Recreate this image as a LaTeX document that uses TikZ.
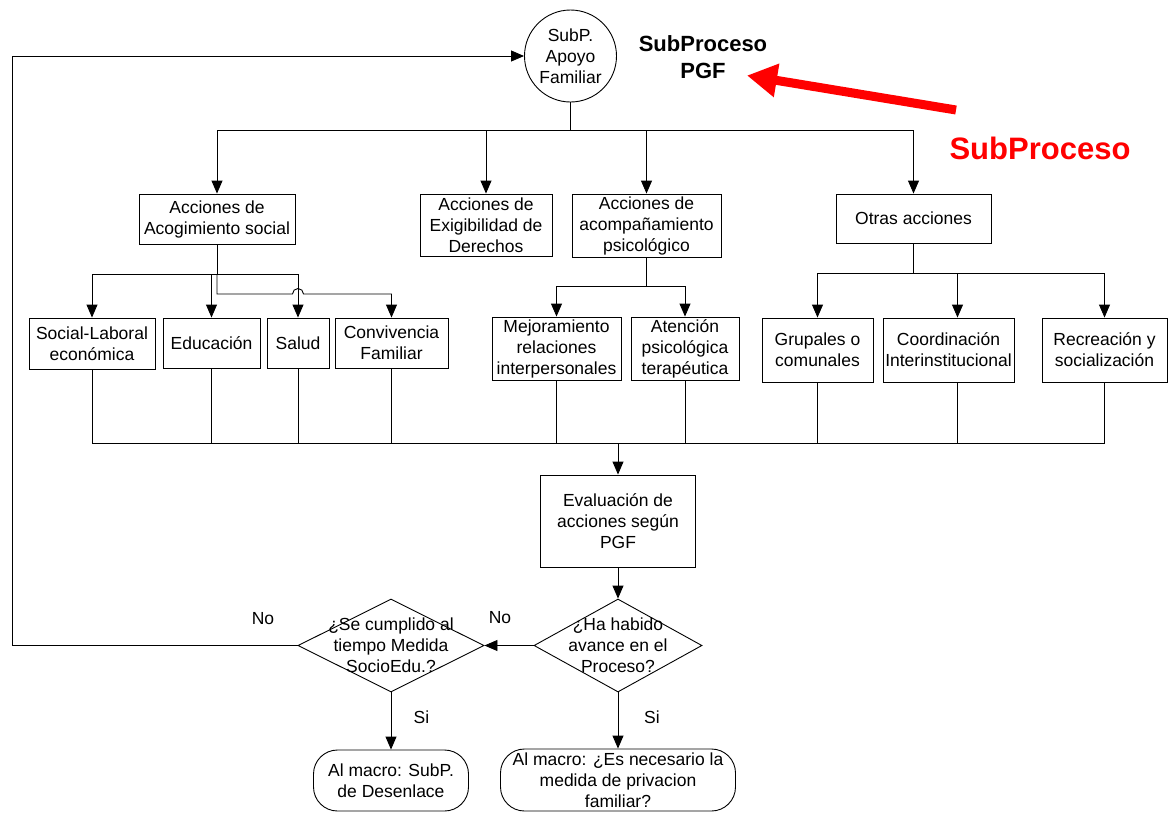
\documentclass[tikz,border=0pt]{standalone}
\usepackage{fontspec}
\setmainfont{Liberation Sans}
\usetikzlibrary{arrows.meta,shapes.geometric}
\begin{document}
\begin{tikzpicture}[x=1pt,y=-1pt,
  every node/.style={font=\fontsize{17.5}{21}\selectfont, align=center, inner sep=0pt},
  line/.style={draw=black, line width=0.9pt},
  arr/.style={line, -{Triangle[length=13pt,width=11pt]}},
  box/.style={draw=black, line width=0.9pt, rectangle},
  decision/.style={draw=black, line width=0.9pt, diamond},
  terminal/.style={draw=black, line width=0.9pt, rectangle, rounded corners=24pt},
  heading/.style={font=\fontsize{22}{27}\selectfont\bfseries},
  redlabel/.style={font=\fontsize{31}{36}\selectfont\bfseries, text=red}
]
\useasboundingbox (0,0) rectangle (1176,812);

% start of the sub-process
\node[circle, draw=black, line width=0.9pt, minimum size=92] (circ) at (570.5,56) {SubP.\\Apoyo\\Familiar};
\node[heading] (pgf) at (703,57) {SubProceso\\PGF};
\node[redlabel] (redlbl) at (1040,148) {SubProceso};
\coordinate (rtail) at (956,110);
\coordinate (rtip) at (747,75.5);
\draw[red, line width=9pt, -{Triangle[length=30pt,width=32pt]}] (rtail) -- (rtip);

% first level of actions
\node[box, minimum width=156, minimum height=50] (acog) at (217,219) {Acciones de\\Acogimiento social};
\node[box, minimum width=132, minimum height=62] (exig) at (486,225) {Acciones de\\Exigibilidad de\\Derechos};
\node[box, minimum width=149, minimum height=63] (acomp) at (646.5,225.5) {Acciones de\\acompañamiento\\psicológico};
\node[box, minimum width=155, minimum height=49] (otras) at (913.5,218.5) {Otras acciones};

% second level of actions
\node[box, minimum width=126, minimum height=51] (social) at (92,343.5) {Social-Laboral\\económica};
\node[box, minimum width=97, minimum height=50] (educ) at (211.5,343) {Educación};
\node[box, minimum width=62, minimum height=50] (salud) at (298,343) {Salud};
\node[box, minimum width=113, minimum height=50] (conv) at (391.5,343) {Convivencia\\Familiar};
\node[box, minimum width=129, minimum height=63] (mejor) at (556.5,348.5) {Mejoramiento\\relaciones\\interpersonales};
\node[box, minimum width=108, minimum height=63] (atenc) at (685,348.5) {Atención\\psicológica\\terapéutica};
\node[box, minimum width=111, minimum height=64] (grup) at (817.5,350) {Grupales o\\comunales};
\node[box, minimum width=131, minimum height=64] (coord) at (948.5,350) {Coordinación\\Interinstitucional};
\node[box, minimum width=125, minimum height=64] (recr) at (1104.5,350) {Recreación y\\socialización};

% evaluation and decisions
\node[box, minimum width=155, minimum height=92] (eval) at (618,521) {Evaluación de\\acciones según\\PGF};
\node[decision, minimum width=168, minimum height=93] (d2) at (618,645.5) {};
\node (d2t) at (d2.center) {¿Ha habido\\avance en el\\Proceso?};
\node[decision, minimum width=186, minimum height=93] (d1) at (391,645.5) {};
\node (d1t) at (d1.center) {¿Se cumplido al\\tiempo Medida\\SocioEdu.?};
\node[terminal, minimum width=155, minimum height=61] (t1) at (391,780.5) {Al macro: SubP.\\de Desenlace};
\node[terminal, minimum width=235, minimum height=62] (t2) at (618,780) {Al macro: ¿Es necesario la\\medida de privacion\\familiar?};

\node (no1) at (263,619) {No};
\node (no2) at (500,618) {No};
\node (si1) at (421.5,717) {Si};
\node (si2) at (652,717) {Si};

% connectors from the start circle
\coordinate (topbus) at (570.5,130);
\draw[line] (circ.south) -- (topbus);
\draw[arr] (topbus) -| (acog.north);
\draw[arr] (topbus) -| (exig.north);
\draw[arr] (topbus) -| (acomp.north);
\draw[arr] (topbus) -| (otras.north);

% acogimiento branch (with a jump over the Salud drop)
\coordinate (abus) at (217,274);
\coordinate (abus2) at (217,294);
\draw[line] (acog.south) -- (abus);
\draw[arr] (abus) -| (social.north);
\draw[arr] (abus) -| (educ.north);
\draw[arr] (abus) -| (salud.north);
\draw[arr] (abus) -- (abus2) -- (292.5,294) arc (180:360:5.5) -| (conv.north);

% acompanamiento branch
\coordinate (pbus) at (646.5,286);
\draw[line] (acomp.south) -- (pbus);
\draw[arr] (pbus) -| (mejor.north);
\draw[arr] (pbus) -| (atenc.north);

% otras acciones branch
\coordinate (obus) at (913.5,273);
\draw[line] (otras.south) -- (obus);
\draw[arr] (obus) -| (grup.north);
\draw[arr] (obus) -| ([xshift=9pt]coord.north);
\draw[arr] (obus) -| (recr.north);

% merge into the evaluation
\coordinate (mbus) at (618,443);
\draw[line] (social.south) |- (mbus);
\draw[line] (educ.south) |- (mbus);
\draw[line] (salud.south) |- (mbus);
\draw[line] (conv.south) |- (mbus);
\draw[line] (mejor.south) |- (mbus);
\draw[line] (atenc.south) |- (mbus);
\draw[line] (grup.south) |- (mbus);
\draw[line] ([xshift=9pt]coord.south) |- (mbus);
\draw[line] (recr.south) |- (mbus);
\draw[arr] (mbus) -- (eval.north);

% decisions
\draw[arr] (eval.south) -- (d2.north);
\draw[arr] (d2.west) -- (d1.east);
\draw[arr] (d2.south) -- (t2.north);
\draw[arr] (d1.south) -- (t1.north);
\coordinate (fb) at (12,645.5);
\draw[arr] (d1.west) -- (fb) |- (circ.west);
\end{tikzpicture}
\end{document}
